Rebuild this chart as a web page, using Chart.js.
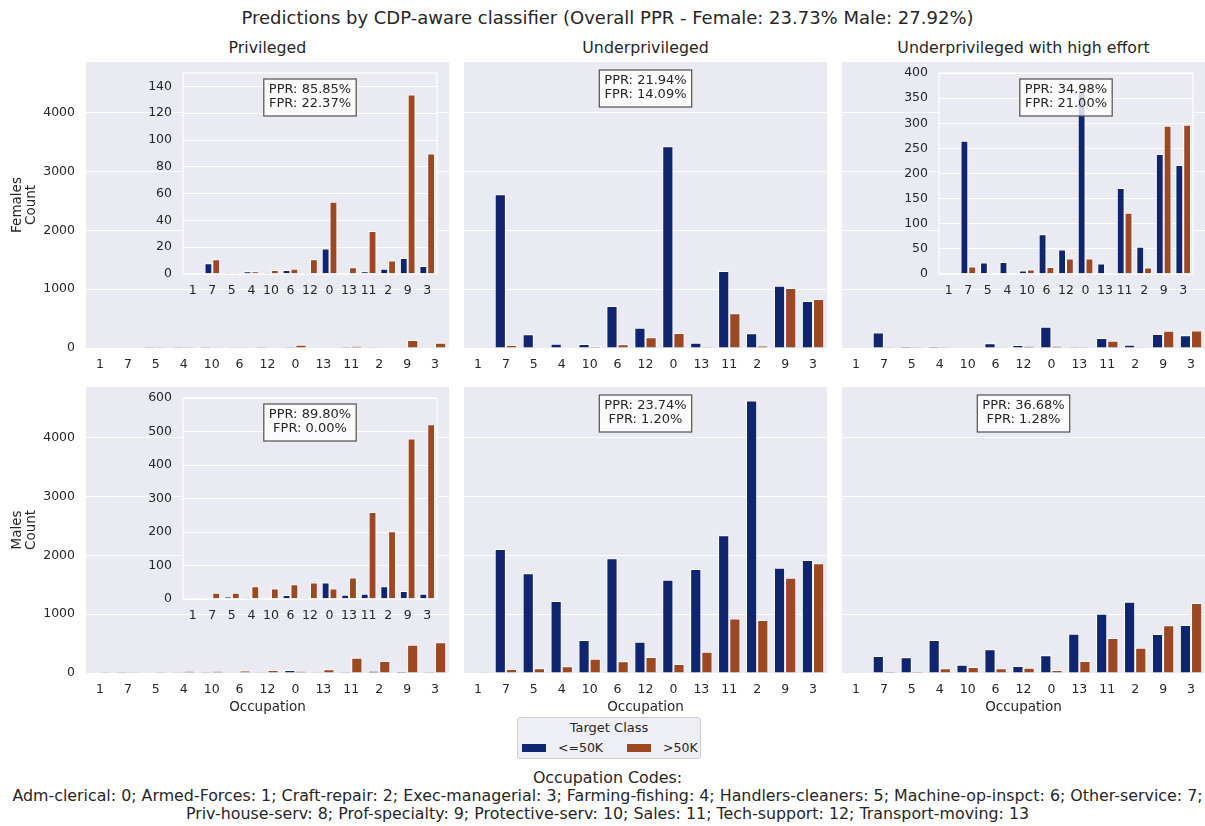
<!DOCTYPE html>
<html>
<head>
<meta charset="utf-8">
<script src="https://cdn.jsdelivr.net/npm/chart.js@4.4.1/dist/chart.umd.min.js"></script>
<style>
  body { margin: 0; background: #fff; font-family: 'DejaVu Sans', sans-serif; color: #262626; }
  #page { position: relative; width: 1205px; height: 826px; overflow: hidden; }
  .box { position: absolute; }
  .txt { position: absolute; white-space: nowrap; text-align: center; }
  #legend { position: absolute; left: 517px; top: 717px; width: 182px; height: 40px;
            background: #eeeef5; border: 1px solid #cccccc; border-radius: 3px; }
  .sw { position: absolute; width: 24px; height: 8px; top: 26px; }
  .lt { position: absolute; font-size: 12.5px; top: 22px; line-height: 16px; }
</style>
</head>
<body>
<div id="page">
  <div class="txt" style="left:5px;width:1205px;top:7px;font-size:18px;line-height:22px;">Predictions by CDP-aware classifier (Overall PPR - Female: 23.73% Male: 27.92%)</div>
  <div id="titles"></div>
  <div id="legend"></div>
  <div class="txt" style="left:5px;width:1205px;top:769px;font-size:15.85px;line-height:18px;">Occupation Codes:<br>Adm-clerical: 0; Armed-Forces: 1; Craft-repair: 2; Exec-managerial: 3; Farming-fishing: 4; Handlers-cleaners: 5; Machine-op-inspct: 6; Other-service: 7;<br>Priv-house-serv: 8; Prof-specialty: 9; Protective-serv: 10; Sales: 11; Tech-support: 12; Transport-moving: 13</div>
</div>
<script>
// occupation codes in plotting order
const occupations = ['1', '7', '5', '4', '10', '6', '12', '0', '13', '11', '2', '9', '3'];
const classes = ['<=50K', '>50K'];
const groups = ['Privileged', 'Underprivileged', 'Underprivileged with high effort'];

// Females
const privF_low    = [0, 8, 1, 2, 1, 3, 1, 19, 0, 2, 4, 12, 6];
const privF_high   = [0, 11, 1, 2, 3, 4, 11, 54, 5, 32, 10, 134, 90];
const underF_low   = [0, 2612, 232, 74, 68, 714, 346, 3428, 91, 1309, 249, 1059, 799];
const underF_high  = [0, 51, 5, 0, 28, 62, 181, 255, 2, 589, 40, 1020, 833];
const effortF_low  = [0, 265, 23, 24, 7, 79, 49, 362, 21, 171, 54, 239, 217];
const effortF_high = [0, 15, 1, 1, 9, 14, 31, 31, 1, 122, 13, 295, 297];

// Males
const privM_low    = [0, 1, 7, 4, 1, 12, 4, 49, 13, 16, 38, 24, 16];
const privM_high   = [1, 19, 19, 38, 31, 44, 49, 31, 64, 260, 202, 479, 522];
const underM_low   = [0, 2108, 1694, 1224, 561, 1949, 533, 1586, 1768, 2340, 4630, 1790, 1921];
const underM_high  = [3, 68, 79, 113, 244, 198, 272, 153, 363, 924, 901, 1620, 1864];
const effortM_low  = [0, 289, 266, 561, 142, 402, 119, 300, 669, 1008, 1212, 663, 816];
const effortM_high = [0, 23, 23, 79, 102, 79, 91, 51, 204, 595, 431, 810, 1190];

// PPR / FPR boxes
const pprF = ['85.85%', '21.94%', '34.98%'];
const fprF = ['22.37%', '14.09%', '21.00%'];
const pprM = ['89.80%', '23.74%', '36.68%'];
const fprM = ['0.00%', '1.20%', '1.28%'];

// tick labels
const mainTicks = [0, 1000, 2000, 3000, 4000];
const insetTicksF1 = [0, 20, 40, 60, 80, 100, 120, 140];
const insetTicksF3 = [0, 50, 100, 150, 200, 250, 300, 350, 400];
const insetTicksM1 = [0, 100, 200, 300, 400, 500, 600];

const BLUE = '#10256f';
const ORANGE = '#9c4822';
const BG = '#eaeaf2';
const TXT = '#262626';

Chart.defaults.font.family = "'DejaVu Sans', sans-serif";
Chart.defaults.color = TXT;

const page = document.getElementById('page');

// background, white frame and the PPR/FPR box
const panelDeco = {
  id: 'panelDeco',
  beforeDraw(chart) {
    const { ctx, chartArea: a } = chart;
    ctx.save();
    ctx.fillStyle = BG;
    ctx.fillRect(a.left, a.top, a.width, a.height);
    ctx.restore();
  },
  afterDraw(chart, args, opts) {
    const { ctx, chartArea: a } = chart;
    if (opts.frame) {
      ctx.save();
      ctx.strokeStyle = '#ffffff';
      ctx.lineWidth = 1.25;
      ctx.strokeRect(a.left, a.top, a.width, a.height);
      ctx.restore();
    }
    if (opts.note) {
      const lines = opts.note;
      ctx.save();
      ctx.font = "13px 'DejaVu Sans'";
      const w = Math.max(...lines.map(l => ctx.measureText(l).width)) + 10;
      const lh = 14.5;
      const h = lines.length * lh + 8;
      const cx = (a.left + a.right) / 2;
      const y0 = a.top + opts.noteTop;
      ctx.fillStyle = 'rgba(255,255,255,0.8)';
      ctx.fillRect(cx - w / 2, y0, w, h);
      ctx.strokeStyle = '#555555';
      ctx.lineWidth = 1.25;
      ctx.strokeRect(cx - w / 2, y0, w, h);
      ctx.fillStyle = TXT;
      ctx.textAlign = 'center';
      ctx.textBaseline = 'middle';
      lines.forEach((l, i) => ctx.fillText(l, cx, y0 + h / 2 + (i - (lines.length - 1) / 2) * lh - 0.8));
      ctx.restore();
    }
  }
};

function addChart(cfg) {
  // generous top padding so the y tick label padding does not push the plot area down
  const padTop = 22, padRight = 6;
  const W = cfg.yw + cfg.w + padRight;
  const H = padTop + cfg.h + cfg.xh;
  const div = document.createElement('div');
  div.className = 'box';
  div.style.left = (cfg.x - cfg.yw) + 'px';
  div.style.top = (cfg.y - padTop) + 'px';
  div.style.width = W + 'px';
  div.style.height = H + 'px';
  const cv = document.createElement('canvas');
  cv.width = W; cv.height = H;
  cv.style.width = W + 'px'; cv.style.height = H + 'px';
  div.appendChild(cv);
  page.appendChild(div);

  new Chart(cv, {
    type: 'bar',
    data: {
      labels: occupations,
      datasets: [
        { label: classes[0], data: cfg.low, backgroundColor: BLUE, borderColor: '#ffffff', borderWidth: 1 },
        { label: classes[1], data: cfg.high, backgroundColor: ORANGE, borderColor: '#ffffff', borderWidth: 1 }
      ]
    },
    options: {
      responsive: false,
      animation: false,
      devicePixelRatio: 1,
      categoryPercentage: 0.8,
      barPercentage: 1.0,
      layout: { padding: { top: padTop, right: padRight, left: 0, bottom: 0 } },
      plugins: {
        legend: { display: false },
        tooltip: { enabled: false },
        panelDeco: { frame: cfg.frame, note: cfg.note, noteTop: cfg.noteTop }
      },
      scales: {
        x: {
          grid: { display: false },
          border: { display: false },
          ticks: { padding: 1, font: { size: 12.5 }, color: TXT, maxRotation: 0, autoSkip: false },
          title: cfg.xTitle
            ? { display: true, text: cfg.xTitle, font: { size: 13.5 }, color: TXT, padding: { top: 0, bottom: 2 } }
            : { display: false },
          afterFit: s => { s.height = cfg.xh; }
        },
        y: {
          min: 0,
          max: cfg.yMax,
          grid: { color: '#ffffff', lineWidth: 1, drawTicks: false },
          border: { display: false },
          ticks: { display: cfg.showY, padding: 11, font: { size: 12.5 }, color: TXT, callback: v => String(v) },
          afterBuildTicks: s => { s.ticks = cfg.ticks.map(v => ({ value: v })); },
          title: cfg.yTitle
            ? { display: true, text: cfg.yTitle, font: { size: 13.5, lineHeight: 1.0 }, color: TXT, padding: { top: 11, bottom: 0 } }
            : { display: false },
          afterFit: s => { s.width = cfg.yw; }
        }
      }
    },
    plugins: [panelDeco]
  });
}

const colX = [86, 464, 842];
const rowY = [62, 387];
const panelW = 363, panelH = 286;
const mainMax = 4860;

const lows = [[privF_low, underF_low, effortF_low], [privM_low, underM_low, effortM_low]];
const highs = [[privF_high, underF_high, effortF_high], [privM_high, underM_high, effortM_high]];
const pprs = [pprF, pprM];
const fprs = [fprF, fprM];
const rowTitles = [['Females', 'Count'], ['Males', 'Count']];

// which panels get a zoomed inset: [row, col, yMax, ticks]
const insets = [[0, 0, 150, insetTicksF1], [0, 2, 400, insetTicksF3], [1, 0, 600, insetTicksM1]];

// subplot titles
const titles = document.getElementById('titles');
groups.forEach((g, c) => {
  const t = document.createElement('div');
  t.className = 'txt';
  t.style.left = colX[c] + 'px';
  t.style.width = panelW + 'px';
  t.style.top = '38px';
  t.style.fontSize = '15.8px';
  t.style.lineHeight = '20px';
  t.textContent = g;
  titles.appendChild(t);
});

// main panels
for (let r = 0; r < 2; r++) {
  for (let c = 0; c < 3; c++) {
    const hasInset = insets.some(i => i[0] === r && i[1] === c);
    addChart({
      x: colX[c], y: rowY[r], w: panelW, h: panelH,
      yw: c === 0 ? 86 : 0,
      xh: r === 1 ? 45 : 30,
      low: lows[r][c], high: highs[r][c],
      yMax: mainMax, ticks: mainTicks, showY: c === 0,
      yTitle: c === 0 ? rowTitles[r] : null,
      xTitle: r === 1 ? 'Occupation' : null,
      frame: false,
      note: hasInset ? null : ['PPR: ' + pprs[r][c], 'FPR: ' + fprs[r][c]],
      noteTop: 8
    });
  }
}

// insets
insets.forEach(([r, c, yMax, ticks]) => {
  addChart({
    x: colX[c] + 97, y: rowY[r] + 11, w: 254, h: 201,
    yw: 40, xh: 30,
    low: lows[r][c], high: highs[r][c],
    yMax: yMax, ticks: ticks, showY: true,
    yTitle: null, xTitle: null,
    frame: true,
    note: ['PPR: ' + pprs[r][c], 'FPR: ' + fprs[r][c]],
    noteTop: 6
  });
});

// legend
const legend = document.getElementById('legend');
legend.innerHTML = '<div style="position:absolute;left:0;width:182px;top:1px;text-align:center;font-size:13px;line-height:18px;">Target Class</div>';
const swX = [4, 109];
const txX = [40, 145];
[BLUE, ORANGE].forEach((col, i) => {
  const s = document.createElement('div');
  s.className = 'sw';
  s.style.left = swX[i] + 'px';
  s.style.background = col;
  legend.appendChild(s);
  const t = document.createElement('div');
  t.className = 'lt';
  t.style.left = txX[i] + 'px';
  t.textContent = classes[i];
  legend.appendChild(t);
});
</script>
</body>
</html>
